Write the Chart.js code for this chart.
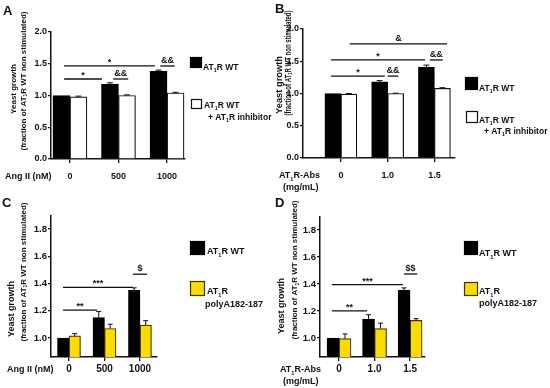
<!DOCTYPE html>
<html>
<head>
<meta charset="utf-8">
<script src="https://cdn.jsdelivr.net/npm/chart.js@4.4.1/dist/chart.umd.min.js"></script>
<style>
  body { margin: 0; background: #fff; }
  #wrap { position: relative; width: 550px; height: 388px; }
  canvas { position: absolute; }
</style>
</head>
<body>
<div id="wrap">
  <canvas id="cA" width="275" height="194" style="left:0;top:0"></canvas>
  <canvas id="cB" width="275" height="194" style="left:275px;top:0"></canvas>
  <canvas id="cC" width="275" height="194" style="left:0;top:194px"></canvas>
  <canvas id="cD" width="275" height="194" style="left:275px;top:194px"></canvas>
</div>
<script>
// categories
const doseAngII = ['0', '500', '1000'];
const doseAbs = ['0', '1.0', '1.5'];

// panel A: Ang II, WT vs WT + inhibitor
const wtA = [1.00, 1.18, 1.38];
const wtAErr = [0, 0.02, 0.02];
const inhA = [0.98, 1.00, 1.04];
const inhAErr = [0.01, 0.01, 0.01];

// panel B: AT1R-Abs, WT vs WT + inhibitor
const wtB = [1.00, 1.18, 1.41];
const wtBErr = [0, 0.02, 0.03];
const inhB = [0.99, 1.00, 1.08];
const inhBErr = [0.01, 0.005, 0.01];

// panel C: Ang II, WT vs polyA182-187
const wtC = [1.00, 1.15, 1.35];
const wtCErr = [0, 0.044, 0.018];
const polyC = [1.015, 1.07, 1.095];
const polyCErr = [0.017, 0.031, 0.032];

// panel D: AT1R-Abs, WT vs polyA182-187
const wtD = [1.00, 1.14, 1.355];
const wtDErr = [0, 0.032, 0.016];
const polyD = [0.995, 1.07, 1.13];
const polyDErr = [0.035, 0.04, 0.013];

// y tick labels
const ticksTop = [0, 0.5, 1.0, 1.5, 2.0];
const ticksBottom = [1.0, 1.2, 1.4, 1.6, 1.8];

// significance marks: [from group, to group, level, text]
const sigA = [[-0.12, 0.66, 1.26, '*'], [0.89, 1.2, 1.26, '&&'], [-0.12, 1.75, 1.465, '*'], [1.86, 2.16, 1.465, '&&']];
const sigB = [[-0.21, 0.94, 1.27, '*'], [1.0, 1.23, 1.27, '&&'], [-0.21, 1.8, 1.52, '*'], [1.9, 2.18, 1.52, '&&'], [0.19, 2.27, 1.77, '&']];
const sigC = [[-0.17, 0.79, 1.205, '**'], [-0.17, 1.8, 1.371, '***'], [1.8, 2.2, 1.468, '$']];
const sigD = [[-0.2, 0.79, 1.2, '**'], [-0.2, 1.8, 1.395, '***'], [1.83, 2.2, 1.474, '$$']];

const FONT = '"Liberation Sans", Arial, sans-serif';
const INK = '#111';
const YELLOW = '#fcdc00';

function parts(s) {
  return s.split(/_(\d)/).map((t, i) => [t, i % 2]);
}
function setFont(ctx, size, sub) {
  ctx.font = 'bold ' + (sub ? size * 0.62 : size) + 'px ' + FONT;
}
function richWidth(ctx, s, size) {
  let w = 0;
  parts(s).forEach(([t, sub]) => { setFont(ctx, size, sub); w += ctx.measureText(t).width; });
  return w;
}
function drawRich(ctx, s, x, y, size) {
  ctx.textAlign = 'left';
  parts(s).forEach(([t, sub]) => {
    setFont(ctx, size, sub);
    ctx.fillText(t, x, y + (sub ? size * 0.28 : 0));
    x += ctx.measureText(t).width;
  });
}
// rotated title, centred on (cx, cy); optional len squeezes it to that length
function drawVTitle(ctx, s, cx, cy, size, len) {
  const w = richWidth(ctx, s, size);
  const k = len ? len / w : 1;
  ctx.save();
  ctx.translate(cx, cy);
  ctx.rotate(-Math.PI / 2);
  ctx.scale(k, 1);
  ctx.textBaseline = 'middle';
  drawRich(ctx, s, -w / 2, 0, size);
  ctx.restore();
}

function extras(spec) {
  return {
    id: 'extras',
    afterDatasetsDraw(chart) {
      const ctx = chart.ctx;
      const xs = chart.scales.x, ys = chart.scales.y;
      ctx.save();
      ctx.strokeStyle = INK;
      ctx.fillStyle = INK;
      // error bars
      ctx.lineWidth = 1;
      spec.errors.forEach((errs, di) => {
        const meta = chart.getDatasetMeta(di);
        meta.data.forEach((bar, i) => {
          if (!errs[i]) return;
          const v = chart.data.datasets[di].data[i].y;
          const yt = ys.getPixelForValue(v + errs[i]);
          ctx.beginPath();
          ctx.moveTo(bar.x, bar.y);
          ctx.lineTo(bar.x, yt);
          ctx.moveTo(bar.x - spec.cap, yt);
          ctx.lineTo(bar.x + spec.cap, yt);
          ctx.stroke();
        });
      });
      // significance brackets
      ctx.lineWidth = 1.3;
      ctx.textBaseline = 'alphabetic';
      spec.sig.forEach(([a, b, lvl, txt]) => {
        const x1 = xs.getPixelForValue(a), x2 = xs.getPixelForValue(b);
        const yy = ys.getPixelForValue(lvl);
        ctx.beginPath();
        ctx.moveTo(x1, yy);
        ctx.lineTo(x2, yy);
        ctx.stroke();
        setFont(ctx, spec.sigSize, 0);
        ctx.textAlign = 'center';
        ctx.fillText(txt, (x1 + x2) / 2, yy - 3 + (txt.indexOf('*') >= 0 ? 2 : 0));
      });
      ctx.restore();
    },
    afterDraw(chart) {
      const ctx = chart.ctx;
      ctx.save();
      ctx.fillStyle = INK;
      ctx.textBaseline = 'alphabetic';
      // panel letter
      ctx.font = 'bold 13px ' + FONT;
      ctx.textAlign = 'left';
      ctx.fillText(spec.letter[0], spec.letter[1], spec.letter[2]);
      // y title
      spec.yTitle.forEach(([t, cx, cy, size, len]) => drawVTitle(ctx, t, cx, cy, size, len));
      // x axis label
      spec.xLabel.forEach(([t, x, y]) => drawRich(ctx, t, x, y, spec.xLabelSize));
      // legend
      spec.legend.forEach(item => {
        const [bx, by, bw, bh] = item.box;
        ctx.fillStyle = item.fill;
        ctx.fillRect(bx, by, bw, bh);
        ctx.strokeStyle = item.stroke;
        ctx.lineWidth = 1.2;
        ctx.strokeRect(bx + 0.5, by + 0.5, bw - 1, bh - 1);
        ctx.fillStyle = INK;
        item.lines.forEach(([t, x, y]) => drawRich(ctx, t, x, y, spec.legendSize));
      });
      ctx.restore();
    }
  };
}

function makePanel(id, spec) {
  const [left, top, right, bottom] = spec.area;
  new Chart(document.getElementById(id), {
    type: 'bar',
    data: {
      datasets: spec.series.map(s => ({
        data: s.values.map((v, i) => ({ x: i, y: v })),
        backgroundColor: s.fill,
        borderColor: s.stroke,
        borderWidth: 1.2,
        barThickness: spec.barW
      }))
    },
    options: {
      responsive: false,
      animation: false,
      devicePixelRatio: 1,
      layout: { padding: { left: 0, top: top, right: 275 - right, bottom: 0 } },
      plugins: { legend: { display: false }, tooltip: { enabled: false } },
      scales: {
        x: {
          type: 'linear',
          offset: false,
          min: spec.xMin,
          max: spec.xMax,
          afterBuildTicks: s => { s.ticks = spec.cats.map((c, i) => ({ value: i })); },
          afterFit: s => { s.height = 194 - bottom; },
          grid: { drawOnChartArea: false, tickLength: 4, color: INK, lineWidth: 1.3, offset: false },
          border: { color: INK, width: 1.5 },
          ticks: {
            padding: spec.xPad, color: INK, maxRotation: 0, autoSkip: false,
            font: { family: FONT, weight: 'bold', size: spec.xTickSize },
            callback: v => spec.cats[v]
          }
        },
        y: {
          min: spec.yMin,
          max: spec.yMax,
          afterBuildTicks: s => { s.ticks = spec.yTicks.map(v => ({ value: v })); },
          afterFit: s => { s.width = left; },
          grid: { drawOnChartArea: false, tickLength: 3, color: INK, lineWidth: 1.3 },
          border: { color: INK, width: 1.5 },
          ticks: {
            padding: 1, color: INK,
            font: { family: FONT, weight: 'bold', size: spec.yTickSize },
            callback: v => v.toFixed(1)
          }
        }
      }
    },
    plugins: [extras(spec)]
  });
}

const wtStyle = { fill: '#000', stroke: '#000' };
const inhStyle = { fill: '#fff', stroke: INK };
const polyStyle = { fill: YELLOW, stroke: '#3d3500' };
const TITLE2 = '(fraction of AT_1R WT non stimulated)';

makePanel('cA', {
  area: [51, 32, 185, 159], xMin: -0.39, xMax: 2.37, yMin: 0, yMax: 2.0, yTicks: ticksTop,
  cats: doseAngII, barW: 17, cap: 3, xPad: 8, xTickSize: 9, yTickSize: 9,
  series: [Object.assign({ values: wtA }, wtStyle), Object.assign({ values: inhA }, inhStyle)],
  errors: [wtAErr, inhAErr], sig: sigA, sigSize: 9,
  letter: ['A', 3, 15], xLabelSize: 9, legendSize: 8.5,
  yTitle: [['Yeast growth', 13.5, 89, 8], [TITLE2, 23.5, 81, 8]],
  xLabel: [['Ang II (nM)', 5, 179]],
  legend: [
    { box: [190, 57, 12, 11], fill: '#000', stroke: '#000', lines: [['AT_1R WT', 203, 70]] },
    { box: [191, 99, 11, 10], fill: '#fff', stroke: INK, lines: [['AT_1R WT', 204, 108], ['+ AT_1R inhibitor', 208, 120]] }
  ]
});

makePanel('cB', {
  area: [28, 29, 180, 158], xMin: -0.81, xMax: 2.44, yMin: 0, yMax: 2.0, yTicks: ticksTop,
  cats: doseAbs, barW: 16, cap: 3, xPad: 8, xTickSize: 9, yTickSize: 9,
  series: [Object.assign({ values: wtB }, wtStyle), Object.assign({ values: inhB }, inhStyle)],
  errors: [wtBErr, inhBErr], sig: sigB, sigSize: 9,
  letter: ['B', 0, 13], xLabelSize: 9, legendSize: 8.5,
  yTitle: [['Yeast growth', 5, 85, 8.5, 58], [TITLE2, 13.5, 63, 8.5, 105]],
  xLabel: [['AT_1R-Abs', 4, 178], ['(mg/mL)', 8, 190]],
  legend: [
    { box: [190, 77, 13, 13], fill: '#000', stroke: '#000', lines: [['AT_1R WT', 204, 91]] },
    { box: [191, 111, 12, 12], fill: '#fff', stroke: INK, lines: [['AT_1R WT', 204, 123], ['+ AT_1R inhibitor', 209, 134]] }
  ]
});

makePanel('cC', {
  area: [51, 22, 157, 163], xMin: -0.507, xMax: 2.48, yMin: 0.8606, yMax: 1.895, yTicks: ticksBottom,
  cats: doseAngII, barW: 11.5, cap: 2.5, xPad: 2, xTickSize: 10, yTickSize: 9.5,
  series: [Object.assign({ values: wtC }, wtStyle), Object.assign({ values: polyC }, polyStyle)],
  errors: [wtCErr, polyCErr], sig: sigC, sigSize: 9,
  letter: ['C', 2, 13], xLabelSize: 9, legendSize: 9,
  yTitle: [['Yeast growth', 12, 115, 9], [TITLE2, 23.5, 78, 8]],
  xLabel: [['Ang II (nM)', 7, 178]],
  legend: [
    { box: [190, 47, 15, 14], fill: '#000', stroke: '#000', lines: [['AT_1R WT', 207, 60]] },
    { box: [190, 87, 15, 15], fill: YELLOW, stroke: '#3d3500', lines: [['AT_1R', 207, 100], ['polyA182-187', 205, 113]] }
  ]
});

makePanel('cD', {
  area: [45, 23, 150, 163], xMin: -0.535, xMax: 2.42, yMin: 0.859, yMax: 1.896, yTicks: ticksBottom,
  cats: doseAbs, barW: 12, cap: 2.5, xPad: 2, xTickSize: 10, yTickSize: 9.5,
  series: [Object.assign({ values: wtD }, wtStyle), Object.assign({ values: polyD }, polyStyle)],
  errors: [wtDErr, polyDErr], sig: sigD, sigSize: 9,
  letter: ['D', 0, 13], xLabelSize: 9, legendSize: 9,
  yTitle: [['Yeast growth', 6.5, 112, 9], [TITLE2, 20, 76, 8]],
  xLabel: [['AT_1R-Abs', 5, 178], ['(mg/mL)', 8, 190]],
  legend: [
    { box: [189, 47, 14, 14], fill: '#000', stroke: '#000', lines: [['AT_1R WT', 204, 62]] },
    { box: [189, 88, 14, 14], fill: YELLOW, stroke: '#3d3500', lines: [['AT_1R', 204, 100], ['polyA182-187', 204, 112]] }
  ]
});
</script>
</body>
</html>
